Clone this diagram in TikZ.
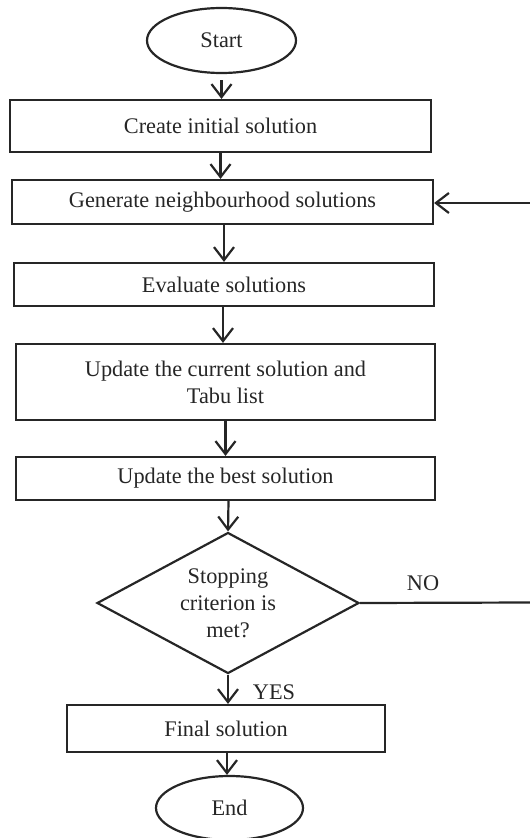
\documentclass[tikz,border=0pt]{standalone}
\usepackage{fontspec}
\setmainfont{Liberation Serif}
\usetikzlibrary{shapes.geometric,arrows.meta}
\begin{document}
\begin{tikzpicture}[x=1pt,y=-1pt,
  every node/.style={font=\fontsize{22.3}{27}\selectfont, text=black!85},
  box/.style={draw=black!85, line width=2.2pt, rectangle, inner sep=0pt, align=center},
  term/.style={draw=black!85, line width=2.2pt, ellipse, inner sep=0pt},
  decision/.style={draw=black!85, line width=2.2pt, diamond, aspect=1.86, inner sep=0pt, align=center},
  arr/.style={draw=black!85, line width=2.2pt, -{Straight Barb[length=13pt,width=20pt,line width=2.2pt]}},
  plain/.style={draw=black!85, line width=2.2pt}]
\useasboundingbox (0,0) rectangle (530,838);
\node[term, minimum width=149pt, minimum height=65pt] (start) at (221.5,40.5) {Start};
\node[box, minimum width=421pt, minimum height=52pt] (create) at (220.5,126) {Create initial solution};
\node[box, minimum width=421pt, minimum height=44pt] (gen) at (222.5,202) {Generate neighbourhood solutions};
\node[box, minimum width=420pt, minimum height=43pt] (eval) at (224,284.5) {\raisebox{-2pt}{Evaluate solutions}};
\node[box, minimum width=419pt, minimum height=76pt] (upd) at (225.5,382) {Update the current solution and\\Tabu list};
\node[box, minimum width=419pt, minimum height=43pt] (best) at (225.5,478.5) {\raisebox{-2pt}{Update the best solution}};
\node[decision, minimum width=262pt, minimum height=141pt] (stop) at (228,603) {Stopping\\criterion is\\met?};
\node[box, minimum width=318pt, minimum height=47pt] (final) at (226,728.5) {Final solution};
\node[term, minimum width=147pt, minimum height=64pt] (end) at (229.5,808) {End};
\coordinate (inR) at (530,203);
\coordinate (noR) at (530,602.5);
\node (no) at (423,583) {NO};
\node (yes) at (274,692) {YES};
\draw[arr] ([yshift=-6pt]start.south) -- (start.south |- create.north);
\draw[arr] (create.south) -- (create.south |- gen.north);
\draw[arr] ([xshift=1.5pt]gen.south) -- ([xshift=1.5pt]gen.south |- eval.north);
\draw[arr] ([xshift=-1pt]eval.south) -- ([xshift=-1pt]eval.south |- upd.north);
\draw[arr] (upd.south) -- (upd.south |- best.north);
\draw[arr] ([xshift=3pt]best.south) -- (stop.north);
\draw[arr] (stop.south) -- (stop.south |- final.north);
\draw[arr] ([xshift=1pt]final.south) -- ([xshift=1pt]final.south |- end.north);
\draw[arr] (inR) -- (gen.east |- inR);
\draw[plain] (stop.east) -- (noR);
\end{tikzpicture}
\end{document}
